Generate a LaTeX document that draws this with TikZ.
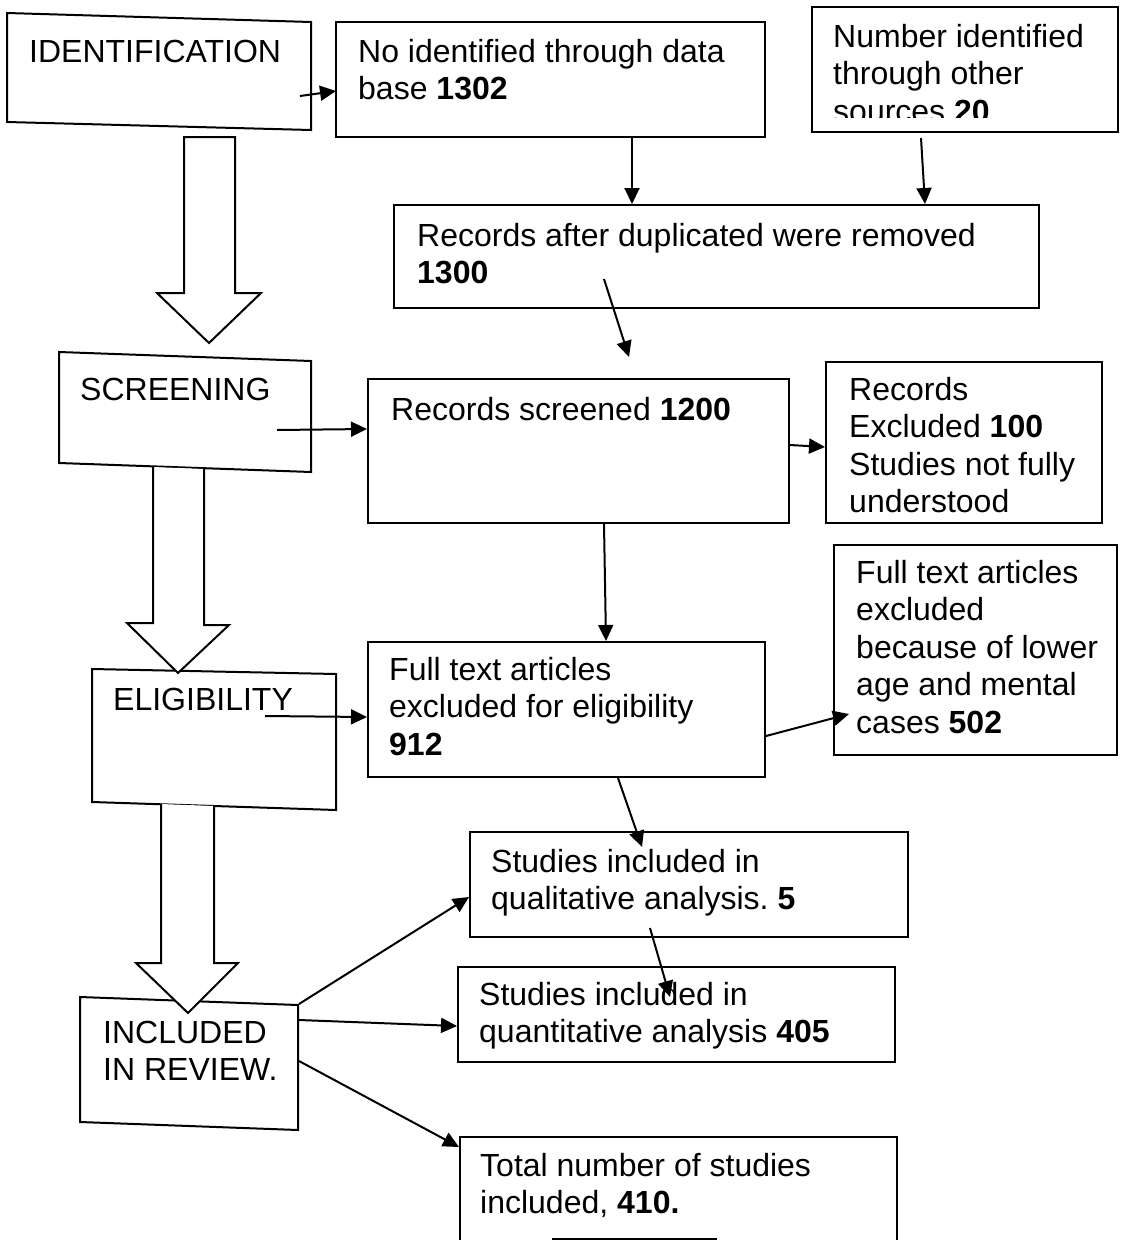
\documentclass[tikz,border=0pt]{standalone}
\usepackage{fontspec}
\setmainfont{Liberation Sans}
\usetikzlibrary{arrows.meta,fit,calc}
\newcommand\sT{\rule{0pt}{26pt}}
\begin{document}
\begin{tikzpicture}[x=1pt,y=-1pt,
  box/.style={draw, line width=2pt},
  fbox/.style={box, inner sep=0pt},
  txt/.style={anchor=north west, inner sep=0pt, align=left, font=\fontsize{32}{37.5}\selectfont},
  conn/.style={line width=2pt, -{Triangle[length=16pt,width=15pt]}},
  hollow/.style={draw, line width=2pt, fill=white}]
\useasboundingbox (0,0) rectangle (1121,1240);
\fill[white] (0,0) rectangle (1121,1240);

% stage boxes (slightly skewed)
\draw[box] (7,13) coordinate (id-tl) -- (311,22) coordinate (id-tr) -- (311,130) coordinate (id-br) -- (7,122) coordinate (id-bl) -- cycle;
\draw[box] (59,352) coordinate (scr-tl) -- (311,361) coordinate (scr-tr) -- (311,472) coordinate (scr-br) -- (59,463) coordinate (scr-bl) -- cycle;
\draw[box] (92,669) coordinate (el-tl) -- (336,674) coordinate (el-tr) -- (336,810) coordinate (el-br) -- (92,802) coordinate (el-bl) -- cycle;
\draw[box] (80,997) coordinate (inc-tl) -- (298,1005) coordinate (inc-tr) -- (298,1130) coordinate (inc-br) -- (80,1122) coordinate (inc-bl) -- cycle;

% content boxes
\node[fbox, fit={(336,22)(765,137)}] (nid) {};
\node[fbox, fit={(812,7)(1118,132)}] (nos) {};
\node[fbox, fit={(394,205)(1039,308)}] (rad) {};
\node[fbox, fit={(368,379)(789,523)}] (rsc) {};
\node[fbox, fit={(826,362)(1102,523)}] (rex) {};
\node[fbox, fit={(368,642)(765,777)}] (fta) {};
\node[fbox, fit={(834,545)(1117,755)}] (fte) {};
\node[fbox, fit={(470,832)(908,937)}] (qual) {};
\node[fbox, fit={(458,967)(895,1062)}] (quan) {};
\node[fbox, fit={(460,1137)(897,1260)}] (tot) {};
\coordinate (botl1) at (552,1239);
\coordinate (botl2) at (717,1239);
\draw[box] (botl1) -- (botl2);

% hollow stage arrows
\draw[hollow] (184,137) -- (184,293) -- (157,293) -- (209,343) -- (261,293) -- (235,293) -- (235,137) -- cycle;
\draw[hollow] (153,467) -- (153,623) -- (127,623) -- (178,673) -- (229,625) -- (204,625) -- (204,469);
\draw[hollow] (161,804) -- (161,963) -- (136,963) -- (188,1013) -- (238,963) -- (214,963) -- (214,806);

% texts
\node[txt] (id-t) at (29,36) {\sT IDENTIFICATION};
\node[txt] (nid-t) at (358,36) {\sT No identified through data\\base \textbf{1302}};
\begin{scope}
\clip (812,0) rectangle (1118,117);
\node[txt] (nos-t) at (833,21) {\sT Number identified\\through other\\sources \textbf{20}};
\end{scope}
\node[txt] (rad-t) at (417,220) {\sT Records after duplicated were removed\\\textbf{1300}};
\node[txt] (scr-t) at (80,374) {\sT SCREENING};
\node[txt] (rsc-t) at (391,394) {\sT Records screened \textbf{1200}};
\node[txt] (rex-t) at (849,374) {\sT Records\\Excluded \textbf{100}\\Studies not fully\\understood};
\node[txt] (elig-t) at (113,684) {\sT ELIGIBILITY};
\node[txt] (fta-t) at (389,654) {\sT Full text articles\\excluded for eligibility\\\textbf{912}};
\node[txt] (fte-t) at (856,557) {\sT Full text articles\\excluded\\because of lower\\age and mental\\cases \textbf{502}};
\node[txt] (qual-t) at (491,846) {\sT Studies included in\\qualitative analysis.\ \textbf{5}};
\node[txt] (inc-t) at (103,1017) {\sT INCLUDED\\IN REVIEW.};
\node[txt] (quan-t) at (479,979) {\sT Studies included in\\quantitative analysis \textbf{405}};
\node[txt] (tot-t) at (480,1150) {\sT Total number of studies\\included, \textbf{410.}};

% connectors
\coordinate (idout) at (300,96);
\coordinate (scrout) at (277,430);
\coordinate (eligout) at (265,716);
\coordinate (inc1) at (299,1004);
\coordinate (inc2) at (299,1020);
\coordinate (inc3) at (299,1061);
\draw[conn] (idout) -- ($(nid.north west)+(1,70)$);
\draw[conn] ($(nid.south west)+(297,0)$) -- ($(rad.north west)+(239,0)$);
\draw[conn] ($(nos.south west)+(110,5)$) -- ($(rad.north west)+(532,0)$);
\draw[conn] ($(rad.south west)+(211,-30)$) -- ($(rsc.north west)+(262,-21)$);
\draw[conn] (scrout) -- ($(rsc.north west)+(0,51)$);
\draw[conn] ($(rsc.north east)+(0,67)$) -- ($(rex.north west)+(0,86)$);
\draw[conn] ($(rsc.south west)+(237,0)$) -- ($(fta.north west)+(239,0)$);
\draw[conn] (eligout) -- ($(fta.north west)+(0,76)$);
\draw[conn] ($(fta.north east)+(0,95)$) -- ($(fte.north west)+(16,170)$);
\draw[conn] ($(fta.south west)+(251,0)$) -- ($(qual.north west)+(173,16)$);
\draw[conn] ($(qual.south west)+(181,-10)$) -- ($(quan.north west)+(213,31)$);
\draw[conn] (inc1) -- ($(qual.north west)+(0,66)$);
\draw[conn] (inc2) -- ($(quan.north west)+(0,60)$);
\draw[conn] (inc3) -- ($(tot.north west)+(0,11)$);
\end{tikzpicture}
\end{document}
